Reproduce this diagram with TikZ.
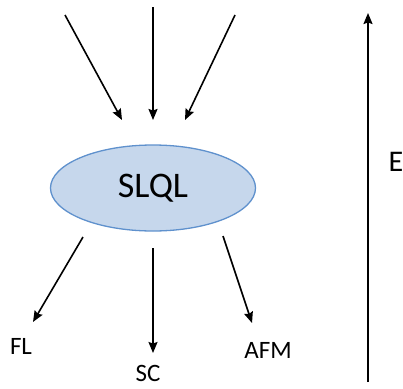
\documentclass[tikz,border=0pt]{standalone}
\usepackage{fontspec}
\setmainfont{Carlito}
\usetikzlibrary{arrows.meta,shapes.geometric}
\definecolor{ellfill}{RGB}{198,215,236}
\definecolor{elldraw}{RGB}{95,145,205}
\tikzset{
  conn/.style={line width=1.6pt,-{Stealth[length=11pt,width=9pt,inset=1.5pt]}},
  lbl/.style={inner sep=0pt,font=\fontsize{25}{30}\selectfont},
}
\begin{document}
\begin{tikzpicture}[x=1pt,y=-1pt]
\useasboundingbox (0,0) rectangle (403,388);
\node[ellipse,draw=elldraw,line width=1.3pt,fill=ellfill,minimum width=205pt,minimum height=86pt,inner sep=0pt,font=\fontsize{36}{40}\selectfont] (slql) at (153,188) {SLQL};
% top inputs
\coordinate (t1s) at (65,15);
\coordinate (t1e) at (122,120);
\coordinate (t2s) at (153,7);
\coordinate (t2e) at (153,120);
\coordinate (t3s) at (235,15);
\coordinate (t3e) at (185,120);
\draw[conn] (t1s) -- (t1e);
\draw[conn] (t2s) -- (t2e);
\draw[conn] (t3s) -- (t3e);
% bottom outputs
\coordinate (b1s) at (83,237);
\coordinate (b1e) at (33,322);
\coordinate (b2s) at (153,248);
\coordinate (b2e) at (153,353);
\coordinate (b3s) at (223,236);
\coordinate (b3e) at (252,323);
\draw[conn] (b1s) -- (b1e);
\draw[conn] (b2s) -- (b2e);
\draw[conn] (b3s) -- (b3e);
\node[lbl] (fl) at (21,346) {FL};
\node[lbl] (sc) at (148,373) {SC};
\node[lbl] (afm) at (268,350) {AFM};
% energy axis
\coordinate (es) at (368,382);
\coordinate (ee) at (368,13);
\draw[conn] (es) -- (ee);
\node[inner sep=0pt,font=\fontsize{30}{36}\selectfont] (e) at (396,162) {E};
\end{tikzpicture}
\end{document}
